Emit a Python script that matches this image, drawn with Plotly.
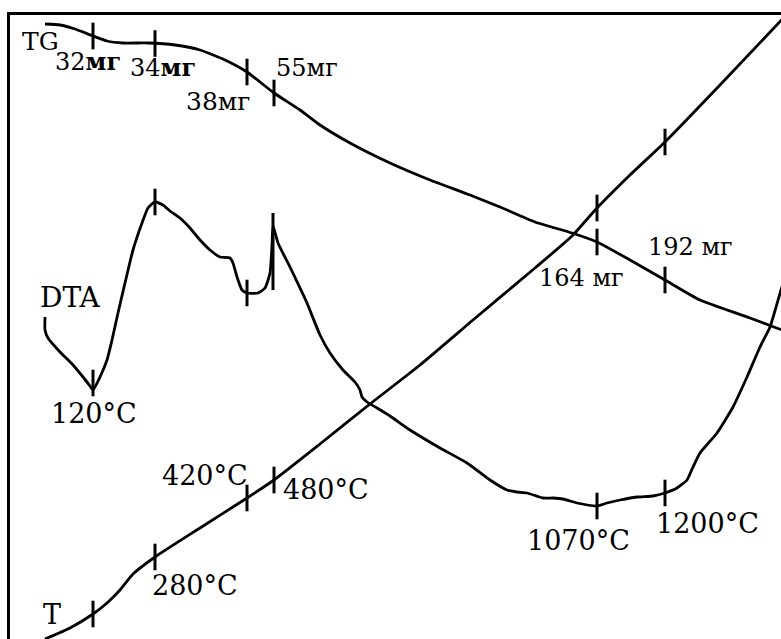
import numpy as np
import plotly.graph_objects as go

# Schematic thermogram (horizontal = time, vertical = signal, screen units)
tg_x = [45, 60, 75, 93, 107, 123, 148, 175, 200, 225, 247, 260, 274, 300, 320, 350, 390, 430, 470, 500, 535, 572, 597, 630, 665, 700, 750, 790]
tg_y = [24, 25, 29, 36, 41, 43, 43, 45, 50, 60, 72, 82, 93, 110, 125, 143, 163, 180, 195, 207, 222, 233, 242, 260, 280, 300, 318, 333]

t_x = [45, 70, 93, 107, 120, 133, 155, 200, 247, 274, 320, 370, 420, 473, 535, 572, 597, 630, 665, 720, 790]
t_y = [639, 628, 614, 603, 590, 574, 557, 528, 498, 480, 444, 404, 365, 320, 268, 236, 208, 175, 142, 85, 11]

dta_x = [45, 45, 48, 60, 73, 83, 90, 93, 100, 107, 112, 118, 125, 133, 142, 148, 155, 163, 170, 180, 190, 200, 210, 220, 230, 233, 237, 242, 247, 258, 265, 270, 272, 273,
         278, 290, 300, 307, 320, 330, 343, 355, 360, 362, 367, 377, 390, 410, 440, 467, 490, 507, 517, 527, 543, 553, 563, 577, 597, 607, 620, 637, 653, 665,
         677, 687, 693, 700, 717, 733, 747, 760, 770, 781, 790]
dta_y = [317, 330, 338, 352, 365, 377, 386, 390, 377, 360, 340, 313, 283, 250, 223, 208, 202, 205, 211, 218, 228, 240, 250, 257, 258, 263, 277, 290, 293, 293, 288, 273, 245, 226,
         243, 267, 288, 303, 335, 353, 370, 382, 390, 397, 402, 408, 416, 430, 448, 463, 480, 490, 492, 493, 498, 498, 499, 503, 506, 503, 500, 497, 496, 493,
         488, 480, 467, 453, 433, 407, 377, 347, 327, 290, 262]

dta_spike_x = [273, 273]
dta_spike_y = [213, 290]

mark_times = [93, 155, 247, 274, 597, 665]
dta_mark_times = [93, 155, 247, 597, 665]

labels = ["TG", "32<b>мг</b>", "34<b>мг</b>", "38мг", "55мг", "164 мг", "192 мг",
          "DTA", "120°C", "T", "280°C", "420°C", "480°C", "1070°C", "1200°C"]
label_x = [40, 88, 163, 218, 307, 581, 690, 70, 94, 52, 195, 205, 326, 578, 707]
label_y = [41, 61, 67, 101, 68, 278, 247, 297, 413, 614, 585, 475, 489, 540, 523]
label_size = [25, 24, 24, 25, 24, 24, 24, 28, 27, 27, 27, 27, 27, 27, 27]

LW = 2.8
fig = go.Figure()
for xs, ys in [(tg_x, tg_y), (t_x, t_y), (dta_x, dta_y)]:
    fig.add_trace(go.Scatter(x=xs, y=ys, mode="lines",
                             line=dict(color="black", width=LW, shape="spline", smoothing=0.5),
                             hoverinfo="skip", showlegend=False))
fig.add_trace(go.Scatter(x=dta_spike_x, y=dta_spike_y, mode="lines",
                         line=dict(color="black", width=3), hoverinfo="skip", showlegend=False))

tick_marker = dict(symbol="line-ns", size=19, color="black", line=dict(color="black", width=3))
fig.add_trace(go.Scatter(x=mark_times, y=np.interp(mark_times, tg_x, tg_y), mode="markers",
                         marker=tick_marker, hoverinfo="skip", showlegend=False))
fig.add_trace(go.Scatter(x=mark_times, y=np.interp(mark_times, t_x, t_y), mode="markers",
                         marker=tick_marker, hoverinfo="skip", showlegend=False))
dta_mark_y = list(np.interp(dta_mark_times, dta_x, dta_y))
dta_mark_y[0] -= 7
fig.add_trace(go.Scatter(x=dta_mark_times, y=dta_mark_y, mode="markers",
                         marker=tick_marker, hoverinfo="skip", showlegend=False))

for txt, x, y, s in zip(labels, label_x, label_y, label_size):
    fig.add_annotation(x=x, y=y, text=txt, showarrow=False, xanchor="center", yanchor="middle",
                       font=dict(family="DejaVu Serif", size=s, color="black"))

fig.update_layout(
    width=781, height=639, autosize=False,
    margin=dict(l=10, r=0, t=15, b=0, pad=0),
    paper_bgcolor="white", plot_bgcolor="white",
    xaxis=dict(range=[10, 781], side="top", showline=True, linecolor="black", linewidth=2.5,
               showgrid=False, zeroline=False, showticklabels=False, ticks=""),
    yaxis=dict(range=[639, 15], showline=True, linecolor="black", linewidth=2.5,
               showgrid=False, zeroline=False, showticklabels=False, ticks=""),
)
# remove the default page margin so the 781x639 figure fills the window exactly
fig.write_html("out.html", config={"displayModeBar": False},
               post_script="document.body.style.margin='0';document.body.style.overflow='hidden';")
